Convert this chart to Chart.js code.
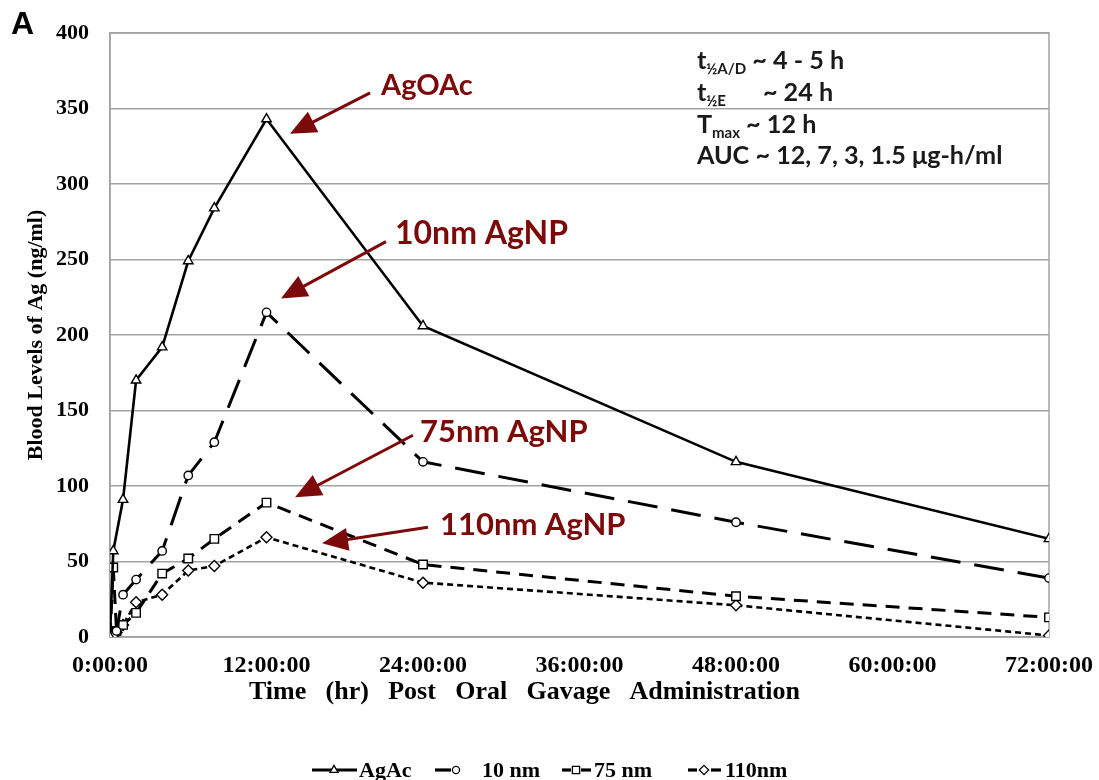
<!DOCTYPE html>
<html><head><meta charset="utf-8">
<script src="https://cdn.jsdelivr.net/npm/chart.js@4.4.1/dist/chart.umd.min.js"></script>
<style>html,body{margin:0;padding:0;background:#fff;} canvas{display:block;}</style>
</head><body>
<canvas id="c" width="1099" height="780"></canvas>
<script>
// ---- data ----
const timesH = [0, 0.25, 0.5, 1, 2, 4, 6, 8, 12, 24, 48, 72];
const agAc   = [0, 57, null, 91, 170, 192, 249, 284, 343, 206, 116, 65];
const nm10   = [0, 1, 4, 28, 38, 57, 107, 129, 215, 116, 76, 39];
const nm75   = [0, 46, 4, 8, 16, 42, 52, 65, 89, 48, 27, 13];
const nm110  = [0, 1, 3, 8, 23, 28, 44, 47, 66, 36, 21, 1];
const seriesNames = ['AgAc', '10 nm', '75 nm', '110nm'];
const xTickHours = [0, 12, 24, 36, 48, 60, 72];
const yTickValues = [0, 50, 100, 150, 200, 250, 300, 350, 400];
const calloutLabels = ['AgOAc', '10nm AgNP', '75nm AgNP', '110nm AgNP'];
const xTitle = 'Time (hr) Post Oral Gavage Administration';
const yTitle = 'Blood Levels of Ag (ng/ml)';

const GRID = '#a3a3a3';
const RED = '#7d0a0a';
const SERIF = '"Liberation Serif", "Times New Roman", serif';
const SANS = 'Lato, "Open Sans", sans-serif';

function pts(arr){ return timesH.map((t,i)=>({x:t, y:arr[i]})); }

const styles = [
  {pointStyle:'triangle', radius:5.5, dash:[], width:2.6},
  {pointStyle:'circle', radius:4.2, dash:[30,14], width:3},
  {pointStyle:'rect', radius:6, dash:[14,9], width:3},
  {pointStyle:'rectRot', radius:5.5, dash:[6,4], width:2.6}
];
const seriesData = [agAc, nm10, nm75, nm110];

const datasets = seriesData.map((arr,i)=>({
  label: seriesNames[i],
  data: pts(arr),
  borderColor:'#000',
  borderWidth: styles[i].width,
  borderDash: styles[i].dash,
  pointStyle: styles[i].pointStyle,
  pointRadius: styles[i].radius,
  pointBackgroundColor:'#fff',
  pointBorderColor:'#000',
  pointBorderWidth:1.4,
  tension:0,
  spanGaps:true,
  fill:false
}));

// annotation layout (in data units: hours, ng/ml)
const callouts = [
  {tx:20.78, ty:365, size:29, x1:19.94, y1:360.3, x2:13.8, y2:333.2},
  {tx:21.85, ty:267, size:32, x1:21.16, y1:261.8, x2:13.11, y2:224.1},
  {tx:23.77, ty:136, size:31, x1:23.23, y1:133.6, x2:14.19, y2:92.6},
  {tx:25.30, ty:74,  size:31, x1:24.38, y1:72.7,  x2:16.26, y2:62.1}
];

function arrow(ctx,x1,y1,x2,y2){
  const a = Math.atan2(y2-y1,x2-x1), L=26, W=11.5;
  const bx = x2 - L*Math.cos(a), by = y2 - L*Math.sin(a);
  ctx.beginPath(); ctx.moveTo(x1,y1); ctx.lineTo(bx+2*Math.cos(a),by+2*Math.sin(a)); ctx.stroke();
  ctx.beginPath(); ctx.moveTo(x2,y2);
  ctx.lineTo(bx + W*Math.sin(a), by - W*Math.cos(a));
  ctx.lineTo(bx - W*Math.sin(a), by + W*Math.cos(a));
  ctx.closePath(); ctx.fill();
}

function marker(ctx, style, r, x, y){
  Chart.helpers.drawPoint(ctx, {pointStyle:style, radius:r, rotation:0, borderWidth:1.4}, x, y);
}

// draw a text spread across a given width (extra space goes into word gaps)
function spreadText(ctx, text, left, width, y){
  const words = text.split(' ');
  const ws = words.map(w=>ctx.measureText(w).width);
  const total = ws.reduce((a,b)=>a+b,0);
  const gap = (width - total) / (words.length - 1);
  let x = left;
  words.forEach((w,i)=>{ ctx.fillText(w, x, y); x += ws[i] + gap; });
}

const decor = {
  id:'decor',
  beforeDatasetsDraw(chart){
    const {ctx, chartArea:a} = chart;
    ctx.save();
    ctx.strokeStyle = GRID; ctx.lineWidth = 1.5;
    ctx.strokeRect(a.left, a.top, a.right-a.left, a.bottom-a.top);
    ctx.restore();
  },
  afterDraw(chart){
    const {ctx} = chart;
    const xs = chart.scales.x, ys = chart.scales.y;
    ctx.save();
    // panel letter
    ctx.fillStyle = '#000';
    ctx.font = 'bold 32px "Liberation Sans", Arial, sans-serif';
    ctx.textBaseline = 'middle'; ctx.textAlign = 'left';
    ctx.fillText('A', 11, 25);

    // x-axis title (offset left of the plot centre, as in the reference)
    ctx.font = 'bold 26px ' + SERIF;
    ctx.textBaseline = 'middle';
    spreadText(ctx, xTitle, 249, 551, 692);

    // callouts
    ctx.fillStyle = RED; ctx.strokeStyle = RED; ctx.lineWidth = 3;
    callouts.forEach((c,i)=>{
      ctx.font = 'bold ' + c.size + 'px ' + SANS;
      ctx.fillText(calloutLabels[i], xs.getPixelForValue(c.tx), ys.getPixelForValue(c.ty));
      arrow(ctx, xs.getPixelForValue(c.x1), ys.getPixelForValue(c.y1), xs.getPixelForValue(c.x2), ys.getPixelForValue(c.y2));
    });

    // pharmacokinetic stats block
    ctx.fillStyle = '#1a1a1a';
    ctx.textBaseline = 'alphabetic';
    const bigSize = 25.2;
    const big = 'bold ' + bigSize + 'px ' + SANS, small = 'bold 15px ' + SANS;
    const x0 = xs.getPixelForValue(45);
    const lines = [
      {v:376.0, main:'t', sub:'½A/D', rest:' ~ 4 - 5 h', restX:null},
      {v:355.0, main:'t', sub:'½E',   rest:'~ 24 h', restX:66},
      {v:334.0, main:'T', sub:'max',  rest:' ~ 12 h', restX:null},
      {v:313.0, main:'AUC ~ 12, 7, 3, 1.5 μg-h/ml', sub:'', rest:'', restX:null}
    ];
    lines.forEach(l=>{
      const y = ys.getPixelForValue(l.v);
      let x = x0;
      ctx.font = big; ctx.fillText(l.main, x, y); x += ctx.measureText(l.main).width;
      if (l.sub){ ctx.font = small; ctx.fillText(l.sub, x, y+5); x += ctx.measureText(l.sub).width; }
      if (l.rest){ ctx.font = big; ctx.fillText(l.rest, l.restX!==null ? x0 + l.restX : x, y); }
    });

    // legend
    const ly = 770;
    const items = [
      {mx:334, tx:359, segs:[[312,357]]},
      {mx:456, tx:482, segs:[[435,451]]},
      {mx:576, tx:594, segs:[[562,571],[581,591]]},
      {mx:704, tx:725, segs:[[688,697],[711,721]]}
    ];
    items.forEach((it,i)=>{
      ctx.strokeStyle = '#000'; ctx.lineWidth = 3.2; ctx.setLineDash([]);
      it.segs.forEach(s=>{ ctx.beginPath(); ctx.moveTo(s[0],ly); ctx.lineTo(s[1],ly); ctx.stroke(); });
      ctx.fillStyle = '#fff'; ctx.lineWidth = 1.3;
      marker(ctx, styles[i].pointStyle, styles[i].radius*0.85, it.mx, ly);
      ctx.fillStyle = '#000';
      ctx.font = 'bold 22px ' + SERIF; ctx.textBaseline = 'middle';
      ctx.fillText(seriesNames[i], it.tx, ly+1);
    });
    ctx.restore();
  }
};

new Chart(document.getElementById('c'), {
  type:'line',
  data:{datasets},
  options:{
    responsive:false, animation:false, devicePixelRatio:1,
    layout:{padding:{top:33, right:50, bottom:0, left:0}, autoPadding:false},
    plugins:{legend:{display:false}, tooltip:{enabled:false}, title:{display:false}},
    scales:{
      x:{
        type:'linear', min:0, max:72,
        afterBuildTicks(s){ s.ticks = xTickHours.map(v=>({value:v})); },
        afterFit(s){ s.height = 143; s.paddingLeft = 0; s.paddingRight = 0; },
        grid:{display:false, drawTicks:false},
        border:{display:true, color:GRID, width:1.5},
        ticks:{padding:14, color:'#000', maxRotation:0, font:{family:SERIF, weight:'bold', size:24},
               callback:v=>v+':00:00'},
        title:{display:false}
      },
      y:{
        min:0, max:400,
        afterBuildTicks(s){ s.ticks = yTickValues.map(v=>({value:v})); },
        afterFit(s){ s.width = 110; s.paddingTop = 0; s.paddingBottom = 0; },
        grid:{color:GRID, lineWidth:1.5, drawTicks:false},
        border:{display:true, color:GRID, width:1.5},
        ticks:{padding:21, color:'#000', font:{family:SERIF, weight:'bold', size:22}},
        title:{display:true, text:yTitle, color:'#000', font:{family:SERIF, weight:'bold', size:22}, padding:{top:23,bottom:0}}
      }
    }
  },
  plugins:[decor]
});
</script>
</body></html>
